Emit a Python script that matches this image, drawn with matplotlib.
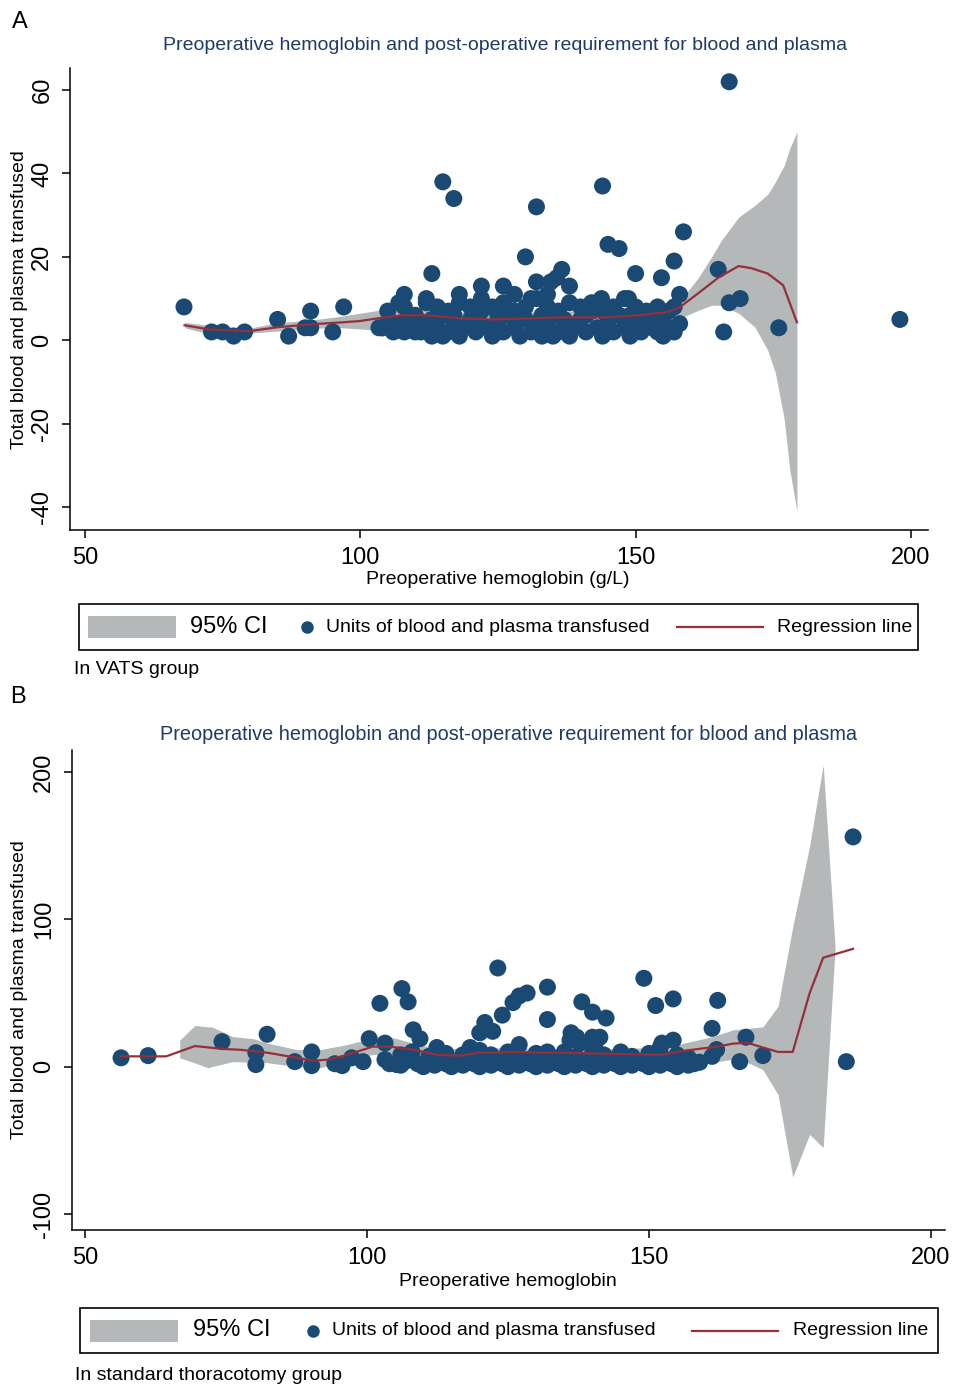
import matplotlib
matplotlib.use('Agg')
from matplotlib import pyplot as plt
from matplotlib.patches import Rectangle
from matplotlib.lines import Line2D

plt.rcParams['font.family'] = ['Liberation Sans', 'DejaVu Sans']
plt.rcParams['axes.unicode_minus'] = False

W, H = 955, 1387

# ---- panel A: VATS group ----
a_x = [68, 73, 75, 77, 79, 85, 87, 90, 91, 91, 95, 97, 103.4, 104, 105, 107, 108, 113,
       115, 117, 132, 144, 130, 145, 147, 150, 154.7, 157, 158.7, 158, 165, 167, 169,
       167, 166, 176, 198,
       104, 106, 107, 108, 109, 110, 111, 112, 113, 114, 115, 116, 117, 118, 119, 120,
       121, 122, 123, 124, 125, 126, 127, 128, 129, 130, 131, 132, 133, 134, 135, 136,
       137, 138, 139, 140, 141, 142, 143, 144, 145, 146, 147, 148, 149, 150, 151, 152,
       153, 154, 155, 156, 157,
       105, 108, 110, 112, 114, 116, 118, 120, 122, 124, 126, 128, 130, 132, 134, 136,
       138, 140, 142, 144, 146, 148, 150, 152, 154, 156, 158, 157,
       112, 118, 122, 126, 128, 131, 132, 134.6, 134, 136.6, 135.7, 138, 143.8, 148.7,
       110, 115, 125, 135, 145, 150, 155,
       109, 113, 117, 121, 125, 129, 133, 137, 141, 145, 149, 153]
a_y = [8, 2, 2, 1, 2, 5, 1, 3, 7, 3, 2, 8, 3, 3, 4, 9, 11, 16,
       38, 34, 32, 37, 20, 23, 22, 16, 15, 19, 26, 11, 17, 62, 10,
       9, 2, 3, 5,
       3, 2, 4, 2, 5, 3, 2, 4, 1, 3, 6, 2, 4, 1, 3, 5,
       2, 7, 3, 1, 4, 2, 6, 3, 1, 5, 2, 4, 1, 3, 6, 2,
       4, 1, 3, 5, 2, 7, 3, 1, 4, 2, 6, 3, 1, 5, 2, 4,
       3, 2, 5, 3, 2,
       7, 8, 6, 9, 8, 7, 9, 8, 10, 8, 9, 7, 8, 10, 8, 7,
       9, 8, 9, 7, 8, 10, 8, 7, 8, 7, 4, 8,
       10, 11, 13, 13, 11, 10, 14, 14, 11, 17, 15, 13, 10, 10,
       2, 1, 2, 1, 2, 2, 1,
       6, 5, 6, 5, 6, 5, 6, 5, 6, 5, 6, 5]

a_fit_x = [68.1, 72.6, 79.9, 84.8, 90.8, 96.7, 99.8, 103.4, 107.6, 112, 118, 124, 132.4,
           136, 144.6, 150.5, 155.4, 157.8, 161.4, 165, 168.7, 171, 174, 176.8, 179.3]
a_fit_y = [3.6, 2.6, 2.2, 3.1, 3.8, 4.3, 4.6, 5.3, 6.0, 6.0, 5.3, 5.0, 5.3,
           5.5, 5.5, 6.0, 6.7, 7.7, 11.3, 15, 17.8, 17.3, 16, 13.2, 4.3]

a_ci_x = [68.1, 72.6, 79.9, 84.8, 90.8, 96.7, 103.4, 107.6, 112, 118, 124, 132.4, 136,
          144.6, 150.5, 156.5, 159, 161.4, 163.8, 165.6, 168.7, 171.7, 174, 175.4, 177,
          178, 179.3]
a_ci_lo = [3.0, 1.5, 1.7, 2.2, 2.9, 3.0, 2.4, 4.3, 4.5, 3.8, 3.5, 3.8, 4.0,
           4.0, 4.5, 4.3, 5.8, 7.2, 8.4, 8.4, 6.5, 3.1, -2.4, -7.9, -19, -31, -41]
a_ci_hi = [4.3, 3.6, 2.9, 4.2, 4.8, 5.8, 7.2, 7.5, 7.5, 6.8, 6.5, 6.8, 7.0,
           7.0, 7.5, 7.2, 11, 15, 20, 24, 29.5, 32.4, 35, 38, 42, 46, 50]

# ---- panel B: standard thoracotomy group ----
b_x = [56.4, 61.2, 74.3, 82.3, 80.3, 80.3, 87.2, 90.2, 90.2, 94.3, 95.6, 97.3, 99.3,
       100.4, 102.3, 106.2, 107.3, 103.2, 108.2, 109.4, 120.9, 120, 122.3, 123.2, 124,
       125.9, 127, 128.4, 132, 132, 136.2, 137.2, 140, 141.3, 138.1, 140, 142.4, 149.1,
       151.2, 154.3, 162.2, 161.2, 167.2, 170.2, 166.1, 186.2, 185,
       104, 106, 107, 109, 110, 111, 112, 113, 114, 115, 116, 117, 118, 119, 120, 121,
       122, 123, 124, 125, 126, 127, 128, 129, 130, 131, 132, 133, 134, 135, 136, 137,
       138, 139, 140, 141, 142, 143, 144, 145, 146, 147, 148, 149, 150, 151, 152, 153,
       154, 155, 156, 157, 158, 159,
       106, 108, 111, 114, 117, 120, 122, 125, 127, 130, 132, 135, 137, 140, 142, 145,
       147, 150, 152, 155, 157,
       112.4, 118.3, 127, 136, 137.8, 140.4, 132, 152.3, 154.3, 152, 161.2, 162, 158.2,
       103.2, 105.3]
b_y = [6, 7.5, 17, 22, 9.5, 1.4, 3.4, 10, 0.7, 2, 0.7, 6, 3.4,
       19, 43, 53, 44, 16, 25, 19, 30, 23, 24, 67, 35,
       43.5, 48, 50, 54, 32, 23, 20, 20, 20, 44, 37, 33, 60,
       41.5, 46, 45, 26, 20, 7.5, 3.4, 156, 3.4,
       2, 1, 4, 2, 0, 3, 1, 5, 2, 0, 3, 1, 4, 2, 0, 3,
       1, 5, 2, 0, 3, 1, 4, 2, 0, 3, 1, 5, 2, 0, 3, 1,
       4, 2, 0, 3, 1, 5, 2, 0, 3, 1, 4, 2, 0, 3, 1, 5,
       2, 0, 3, 1, 2, 3,
       8, 10, 7, 9, 8, 11, 8, 10, 7, 9, 8, 10, 7, 9, 8, 10,
       7, 9, 6, 8, 6,
       13, 13, 15, 18, 16, 15, 10, 16, 18, 13, 7, 11.6, 2.7,
       4.8, 1.4]

b_fit_x = [56.4, 64.4, 69.5, 74.5, 77.5, 82.3, 87.6, 90.4, 93.1, 96.5, 101, 104, 108.2,
           112.4, 116.5, 120, 123, 125.4, 131.9, 134, 152, 156.7, 162, 164.9, 167.4,
           170.2, 172.9, 175.5, 178.5, 180.9, 186.2]
b_fit_y = [7, 7, 14, 12, 11.5, 9.5, 6, 4, 4.8, 8, 13.6, 13.6, 11.6,
           8, 7.5, 9.5, 9.5, 10, 9.5, 9.5, 8, 11, 13.6, 15.6, 16.3,
           13, 10, 10, 50, 74, 80]

b_ci_x = [66.8, 69.5, 71.8, 72.5, 76.2, 79.8, 82.3, 87.6, 91.7, 96.5, 100.5, 104.6,
          108.2, 112.4, 120, 130, 140, 152, 155.1, 161.3, 164.9, 167.4, 170.2, 172.9,
          175.5, 178.5, 180.9, 183]
b_ci_lo = [6, 2.5, -0.7, 0, 3.4, 3.0, 2.7, 0, -0.7, 3.4, 8, 9,
           7, 4.5, 6, 6.5, 6, 4, 3, 3, 5, 3, -2, -19,
           -75, -46, -55, 80]
b_ci_hi = [18, 28, 27, 27, 20.4, 19, 16, 11.6, 11.6, 15, 19, 19.7,
           16, 12, 13, 12.5, 12, 13, 15, 20.4, 25, 26, 27, 41,
           95, 150, 205, 82]

dot_color = '#1A4A73'
line_color = '#93303A'
band_color = '#B4B8B8'
title_color = '#1E3A68'

fig = plt.figure(figsize=(W / 100, H / 100), dpi=100)


def fx(px):
    return px / W


def fy(py):
    return 1 - py / H


def panel(box, x, y, fx_, fy_, cx, lo, hi, xlim, ylim, yticks):
    l, t, r, b = box
    ax = fig.add_axes([fx(l), fy(b), (r - l) / W, (b - t) / H])
    ax.fill_between(cx, lo, hi, color=band_color, lw=0, zorder=1)
    ax.scatter(x, y, s=150, color=dot_color, edgecolors='none', zorder=2)
    ax.plot(fx_, fy_, color=line_color, lw=1.6, zorder=3)
    ax.set_xlim(*xlim)
    ax.set_ylim(*ylim)
    ax.set_xticks([50, 100, 150, 200])
    ax.set_yticks(yticks)
    ax.spines['top'].set_visible(False)
    ax.spines['right'].set_visible(False)
    for s in ['left', 'bottom']:
        ax.spines[s].set_linewidth(1.1)
    ax.tick_params(direction='out', length=6, width=1.1, labelsize=17, pad=6)
    for lab in ax.get_yticklabels():
        lab.set_rotation(90)
        lab.set_va('center')
    return ax


# panel A
axA = panel((70, 68, 928, 530), a_x, a_y, a_fit_x, a_fit_y, a_ci_x, a_ci_lo, a_ci_hi,
            (47.3, 203.1), (-45.5, 65.3), [-40, -20, 0, 20, 40, 60])
fig.text(fx(12), fy(22), 'A', fontsize=17, va='center', ha='left')
fig.text(fx(505), fy(45), 'Preoperative hemoglobin and post-operative requirement for blood and plasma',
         fontsize=14, color=title_color, ha='center', va='center')
fig.text(fx(498), fy(579), 'Preoperative hemoglobin (g/L)', fontsize=14, ha='center', va='center')
fig.text(fx(20), fy(300), 'Total blood and plasma transfused', fontsize=14, rotation=90,
         ha='center', va='center')

# panel B
axB = panel((72, 750, 945, 1230), b_x, b_y, b_fit_x, b_fit_y, b_ci_x, b_ci_lo, b_ci_hi,
            (47.7, 202.5), (-110.9, 215), [-100, 0, 100, 200])
fig.text(fx(10), fy(697), 'B', fontsize=17, va='center', ha='left')
fig.text(fx(508), fy(735), 'Preoperative hemoglobin and post-operative requirement for blood and plasma',
         fontsize=14.3, color=title_color, ha='center', va='center')
fig.text(fx(508), fy(1281), 'Preoperative hemoglobin', fontsize=14, ha='center', va='center')
fig.text(fx(20), fy(990), 'Total blood and plasma transfused', fontsize=14, rotation=90,
         ha='center', va='center')


def legend_box(l, t, r, b, patch_x, ci_x, dot_x, txt_x, line_x, reg_x):
    cy = (t + b) / 2
    fig.add_artist(Rectangle((fx(l), fy(b)), (r - l) / W, (b - t) / H, transform=fig.transFigure,
                             fill=False, edgecolor='black', lw=1.2))
    fig.add_artist(Rectangle((fx(patch_x[0]), fy(cy + 11)), (patch_x[1] - patch_x[0]) / W, 22 / H,
                             transform=fig.transFigure, color=band_color, lw=0))
    fig.text(fx(ci_x), fy(cy), '95% CI', fontsize=17, ha='left', va='center')
    fig.add_artist(Line2D([fx(dot_x)], [fy(cy)], marker='o', ms=8, color=dot_color,
                          transform=fig.transFigure, lw=0))
    fig.text(fx(txt_x), fy(cy), 'Units of blood and plasma transfused', fontsize=14, ha='left', va='center')
    fig.add_artist(Line2D([fx(line_x[0]), fx(line_x[1])], [fy(cy), fy(cy)], color=line_color, lw=1.6,
                          transform=fig.transFigure))
    fig.text(fx(reg_x), fy(cy), 'Regression line', fontsize=14, ha='left', va='center')


legend_box(79, 604, 918, 650, (88, 176), 190, 307, 326, (677, 763), 777)
fig.text(fx(74), fy(670), 'In VATS group', fontsize=14, ha='left', va='center')

legend_box(80, 1308, 938, 1353, (90, 178), 193, 313, 332, (692, 778), 793)
fig.text(fx(75), fy(1375), 'In standard thoracotomy group', fontsize=14, ha='left', va='center')

plt.savefig('out.png', dpi=100)
